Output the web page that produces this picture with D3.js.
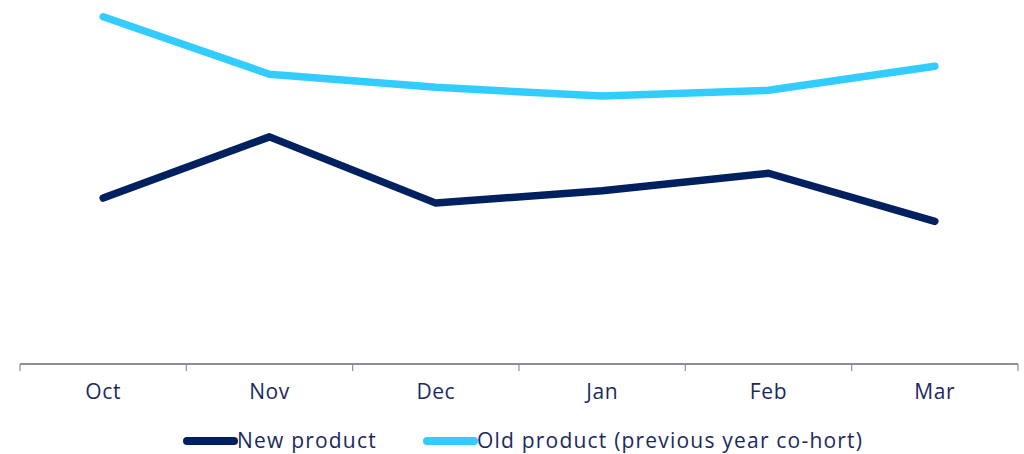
<!DOCTYPE html>
<html><head><meta charset="utf-8">
<script src="https://cdn.jsdelivr.net/npm/d3@7"></script>
<style>html,body{margin:0;padding:0;background:#fff;}svg{display:block;}</style>
</head><body>
<svg id="chart" width="1024" height="454"></svg>
<script>
const categories = ["Oct","Nov","Dec","Jan","Feb","Mar"];
const newProduct = [22.8, 31.2, 22.1, 23.8, 26.2, 19.6];
const oldProduct = [47.7, 39.8, 38.0, 36.8, 37.6, 40.9];
const seriesNames = ["New product","Old product (previous year co-hort)"];
const seriesColors = ["#002060","#33CCFF"];

(function(){
const svg = d3.select("#chart");
const mLeft = 20, mRight = 1018, axisY = 364, mTop = 0;
const x = d3.scaleBand().domain(categories).range([mLeft, mRight]);
const y = d3.scaleLinear().domain([0, 50]).range([axisY, mTop]);
const textColor = "#1B2A5E";
const font = "'Open Sans', sans-serif";

// axis
svg.append("line").attr("x1", mLeft).attr("x2", mRight).attr("y1", axisY).attr("y2", axisY)
  .attr("stroke", "#8C8F9B").attr("stroke-width", 2);
const bounds = categories.map(c => x(c)).concat([x(categories[categories.length-1]) + x.bandwidth()]);
svg.selectAll(".tick").data(bounds).enter().append("line")
  .attr("x1", d => d).attr("x2", d => d).attr("y1", axisY).attr("y2", axisY + 7)
  .attr("stroke", "#8C8F9B").attr("stroke-width", 1.2);
svg.selectAll(".lbl").data(categories).enter().append("text")
  .attr("x", d => x(d) + x.bandwidth()/2).attr("y", 399)
  .attr("text-anchor", "middle").attr("font-family", font).attr("font-size", 21)
  .attr("letter-spacing", 0.6)
  .attr("fill", textColor).text(d => d);

const line = d3.line().x((d,i) => x(categories[i]) + x.bandwidth()/2).y(d => y(d));
[newProduct, oldProduct].forEach((s, k) => {
  svg.append("path").datum(s).attr("d", line).attr("fill", "none")
    .attr("stroke", seriesColors[k]).attr("stroke-width", 7.5)
    .attr("stroke-linecap", "round").attr("stroke-linejoin", "round");
});

// legend
const legendX = [187, 427];
seriesNames.forEach((n, k) => {
  svg.append("line").attr("x1", legendX[k]).attr("x2", legendX[k] + 47)
    .attr("y1", 441).attr("y2", 441).attr("stroke", seriesColors[k])
    .attr("stroke-width", 8).attr("stroke-linecap", "round");
  svg.append("text").attr("x", legendX[k] + 50).attr("y", 448)
    .attr("font-family", font).attr("font-size", 21).attr("letter-spacing", 1.2)
    .attr("fill", textColor).text(n);
});
})();
</script>
</body></html>
